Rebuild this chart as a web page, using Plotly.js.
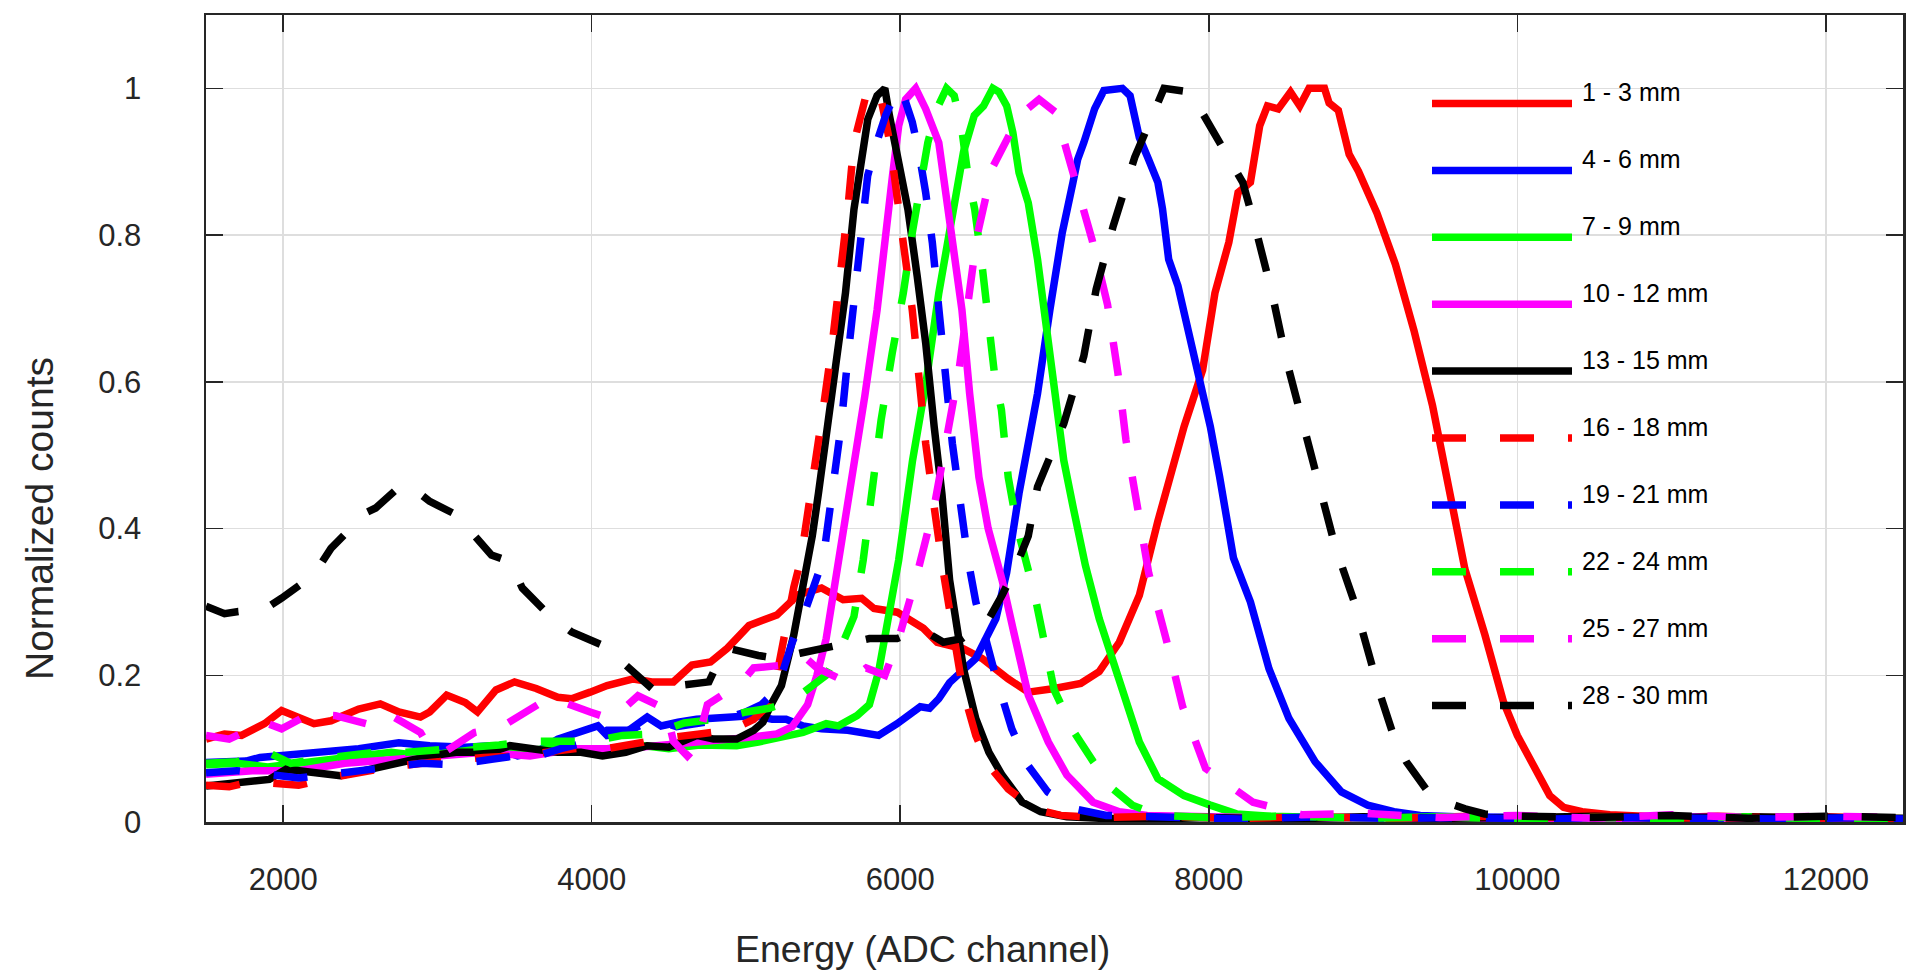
<!DOCTYPE html>
<html>
<head>
<meta charset="utf-8">
<script src="https://cdn.plot.ly/plotly-3.0.1.min.js"></script>
<style>html,body{margin:0;padding:0;background:#fff;}#chart{width:1920px;height:977px;}</style>
</head>
<body>
<div id="chart"></div>
<script>
// ---------- data ----------
const seriesNames = ["1 - 3 mm","4 - 6 mm","7 - 9 mm","10 - 12 mm","13 - 15 mm","16 - 18 mm","19 - 21 mm","22 - 24 mm","25 - 27 mm","28 - 30 mm"];
const seriesColors = ["#ff0000","#0000ff","#00ff00","#ff00ff","#000000","#ff0000","#0000ff","#00ff00","#ff00ff","#000000"];
const seriesDash = ["solid","solid","solid","solid","solid","34px,34px","34px,34px","34px,34px","34px,34px","34px,34px"];

const x01 = [1500,1620,1730,1880,1990,2110,2200,2310,2490,2630,2750,2890,2950,3060,3180,3260,3380,3500,3640,3780,3870,3990,4100,4270,4390,4530,4650,4770,4880,5020,5200,5340,5490,5630,5750,5830,5980,6150,6240,6410,6530,6700,6830,7000,7170,7290,7420,7550,7670,7840,7960,8040,8130,8190,8270,8330,8380,8450,8530,8590,8650,8750,8780,8840,8910,8970,9090,9210,9330,9450,9580,9660,9790,9910,10000,10110,10210,10300,10420,10600,10800,11000,11300,11600,12000,12300,12500];
const y01 = [0.113,0.120,0.118,0.134,0.152,0.143,0.134,0.138,0.154,0.161,0.150,0.143,0.150,0.173,0.163,0.150,0.180,0.191,0.182,0.170,0.168,0.177,0.186,0.195,0.191,0.191,0.214,0.218,0.237,0.268,0.282,0.310,0.319,0.303,0.305,0.291,0.286,0.264,0.245,0.236,0.223,0.195,0.177,0.182,0.189,0.205,0.245,0.309,0.410,0.539,0.616,0.721,0.790,0.858,0.872,0.949,0.976,0.972,0.995,0.976,1.0,1.0,0.98,0.97,0.91,0.887,0.83,0.76,0.67,0.568,0.436,0.345,0.255,0.164,0.118,0.073,0.036,0.020,0.014,0.010,0.009,0.006,0.008,0.006,0.007,0.005,0.004];

const x02 = [1500,1760,1850,2200,2490,2750,2950,3180,3350,3520,3640,3780,3930,4040,4100,4220,4360,4450,4560,4680,4910,5050,5170,5260,5370,5490,5660,5780,5860,5980,6050,6130,6190,6250,6320,6400,6490,6620,6690,6770,6890,6970,7050,7120,7150,7190,7260,7320,7440,7490,7520,7550,7610,7670,7700,7740,7800,7840,7900,7960,8010,8070,8130,8160,8270,8390,8520,8690,8860,9030,9200,9370,9600,10000,10500,11000,11500,12000,12500];
const y02 = [0.081,0.083,0.088,0.095,0.100,0.108,0.104,0.102,0.104,0.090,0.095,0.113,0.122,0.131,0.118,0.122,0.143,0.131,0.136,0.140,0.143,0.145,0.140,0.140,0.131,0.127,0.125,0.122,0.118,0.134,0.145,0.157,0.155,0.168,0.190,0.205,0.223,0.277,0.340,0.448,0.584,0.698,0.803,0.872,0.903,0.926,0.972,0.997,1.0,0.99,0.958,0.933,0.903,0.872,0.836,0.767,0.731,0.694,0.630,0.584,0.539,0.471,0.402,0.36,0.30,0.209,0.141,0.082,0.041,0.023,0.014,0.009,0.007,0.006,0.005,0.007,0.005,0.006,0.004];

const x03 = [1500,1700,1900,2100,2300,2500,2700,2900,3100,3300,3500,3700,3900,4100,4300,4500,4700,4940,5080,5200,5370,5520,5600,5720,5800,5860,5930,5990,6080,6170,6250,6340,6410,6480,6540,6600,6640,6690,6730,6770,6830,6890,6950,7000,7060,7120,7200,7290,7380,7460,7550,7670,7840,8010,8180,8400,8700,9000,9500,10000,10500,11000,11500,12000,12500];
const y03 = [0.078,0.080,0.075,0.080,0.085,0.090,0.095,0.090,0.095,0.100,0.095,0.100,0.100,0.100,0.105,0.100,0.105,0.104,0.109,0.115,0.122,0.134,0.131,0.145,0.160,0.205,0.280,0.357,0.493,0.603,0.721,0.835,0.913,0.963,0.976,1.0,0.995,0.976,0.940,0.885,0.844,0.767,0.676,0.584,0.493,0.430,0.350,0.277,0.218,0.164,0.109,0.059,0.036,0.023,0.011,0.008,0.006,0.005,0.007,0.004,0.006,0.003,0.005,0.004,0.003];

const x04 = [1500,1800,2100,2400,2700,3000,3300,3600,3900,4200,4500,4800,5000,5200,5300,5400,5460,5520,5580,5640,5690,5770,5850,5905,5950,5990,6035,6100,6165,6250,6280,6340,6400,6450,6510,6570,6660,6740,6830,6960,7080,7250,7420,7600,8000,8500,9000,9500,10000,10500,11000,11500,12000,12500];
const y04 = [0.065,0.070,0.070,0.080,0.085,0.090,0.095,0.090,0.100,0.100,0.105,0.110,0.115,0.120,0.130,0.160,0.200,0.250,0.330,0.400,0.470,0.580,0.698,0.812,0.881,0.949,0.985,1.0,0.972,0.926,0.881,0.790,0.698,0.584,0.470,0.400,0.330,0.255,0.173,0.109,0.064,0.027,0.014,0.009,0.007,0.005,0.006,0.004,0.006,0.004,0.006,0.004,0.005,0.004];

const x05 = [1500,1730,1910,2020,2200,2370,2570,2750,2950,3120,3350,3470,3640,3780,3930,4070,4220,4360,4500,4680,4790,4940,5050,5110,5170,5230,5310,5370,5430,5470,5530,5590,5645,5700,5750,5790,5850,5900,5930,5990,6050,6110,6165,6220,6270,6320,6410,6490,6575,6660,6790,6910,7080,7300,7600,8000,8500,9000,9500,10000,10500,11000,11500,12000,12500];
const y05 = [0.049,0.054,0.058,0.072,0.067,0.063,0.072,0.081,0.090,0.095,0.095,0.104,0.100,0.095,0.095,0.090,0.095,0.104,0.102,0.118,0.113,0.113,0.125,0.136,0.163,0.186,0.255,0.319,0.390,0.448,0.539,0.630,0.721,0.835,0.903,0.958,0.990,1.0,0.963,0.903,0.835,0.744,0.653,0.539,0.448,0.330,0.209,0.141,0.095,0.064,0.027,0.014,0.007,0.005,0.004,0.006,0.004,0.007,0.005,0.006,0.008,0.005,0.007,0.006,0.005];

const x06 = [1500,1650,1800,1950,2100,2300,2500,2700,2900,3100,3300,3500,3700,3900,4100,4300,4500,4700,4900,5050,5150,5200,5260,5310,5355,5440,5500,5560,5616,5660,5700,5790,5820,5876,5933,5977,6020,6078,6121,6165,6223,6280,6406,6490,6575,6700,6870,7040,7300,7700,8200,8700,9200,9700,10200,10700,11200,11700,12200,12500];
const y06 = [0.050,0.048,0.055,0.052,0.050,0.060,0.068,0.075,0.080,0.085,0.088,0.090,0.095,0.100,0.100,0.108,0.115,0.120,0.125,0.140,0.160,0.200,0.270,0.320,0.357,0.470,0.562,0.653,0.744,0.835,0.926,1.0,1.0,0.985,0.926,0.858,0.790,0.698,0.607,0.516,0.425,0.340,0.180,0.118,0.077,0.045,0.018,0.009,0.006,0.008,0.005,0.007,0.005,0.008,0.006,0.007,0.005,0.007,0.004,0.005];

const x07 = [1500,1700,1900,2100,2300,2500,2700,2900,3100,3300,3500,3650,3800,4000,4100,4250,4400,4550,4700,4850,5000,5100,5200,5300,5370,5450,5500,5558,5616,5659,5702,5746,5789,5847,5905,5977,6006,6078,6121,6165,6208,6251,6295,6338,6396,6440,6490,6617,6723,6829,6956,7125,7336,7700,8200,8700,9200,9700,10200,10700,11200,11700,12200,12500];
const y07 = [0.067,0.070,0.065,0.060,0.065,0.070,0.075,0.080,0.078,0.085,0.090,0.090,0.100,0.110,0.125,0.125,0.140,0.130,0.135,0.140,0.150,0.160,0.180,0.245,0.280,0.330,0.357,0.448,0.539,0.630,0.721,0.812,0.881,0.926,0.963,0.997,1.0,0.954,0.913,0.858,0.790,0.698,0.607,0.516,0.425,0.357,0.300,0.200,0.127,0.077,0.041,0.018,0.009,0.006,0.004,0.007,0.005,0.006,0.004,0.006,0.005,0.004,0.006,0.004];

const x08 = [1500,1700,1900,2050,2200,2400,2600,2800,3000,3200,3400,3600,3800,4000,4200,4400,4600,4800,5000,5150,5300,5450,5520,5620,5700,5760,5818,5876,5948,6020,6078,6136,6179,6237,6300,6350,6396,6439,6483,6526,6569,6613,6656,6700,6760,6871,6998,7125,7252,7378,7505,7674,8000,8500,9000,9500,10000,10500,11000,11500,12000,12500];
const y08 = [0.080,0.082,0.095,0.080,0.085,0.090,0.095,0.095,0.098,0.100,0.105,0.110,0.110,0.110,0.118,0.120,0.135,0.140,0.150,0.155,0.165,0.190,0.200,0.240,0.280,0.357,0.457,0.548,0.639,0.721,0.803,0.881,0.926,0.972,1.0,0.990,0.949,0.881,0.835,0.767,0.676,0.607,0.562,0.470,0.400,0.310,0.180,0.123,0.082,0.045,0.023,0.009,0.006,0.008,0.005,0.007,0.004,0.006,0.005,0.007,0.004,0.005];

const x09 = [1500,1650,1880,1990,2170,2340,2540,2660,2890,2950,3030,3240,3410,3610,3730,3990,4130,4300,4390,4480,4530,4620,4680,4750,4970,5050,5250,5370,5460,5660,5780,5900,5990,6100,6223,6381,6497,6598,6772,6900,7009,7127,7243,7344,7411,7463,7541,7611,7725,7831,7979,8287,8600,9000,9500,10000,10500,11000,11500,12000,12500];
const y09 = [0.118,0.113,0.136,0.127,0.147,0.145,0.134,0.150,0.122,0.100,0.093,0.122,0.129,0.154,0.170,0.150,0.140,0.172,0.163,0.154,0.110,0.090,0.104,0.160,0.190,0.210,0.214,0.227,0.210,0.190,0.210,0.200,0.250,0.330,0.433,0.616,0.798,0.892,0.963,0.985,0.967,0.877,0.794,0.705,0.612,0.521,0.430,0.339,0.248,0.157,0.073,0.027,0.010,0.012,0.006,0.009,0.005,0.010,0.006,0.008,0.006];

const x10 = [1500,1620,1710,1850,1910,1990,2200,2310,2460,2510,2600,2770,2890,2950,3120,3240,3350,3470,3550,3700,3780,3870,4070,4160,4220,4390,4500,4560,4760,4820,4880,5080,5200,5350,5490,5660,5800,5980,6100,6200,6280,6400,6500,6575,6660,6744,6830,6890,7060,7190,7270,7380,7520,7670,7710,7880,7940,8010,8100,8150,8220,8300,8410,8500,8610,8730,8820,8943,9027,9112,9197,9281,9408,9535,9662,9788,10000,10500,11000,11500,12000,12500];
const y10 = [0.294,0.284,0.287,0.289,0.294,0.305,0.337,0.373,0.405,0.419,0.428,0.460,0.447,0.437,0.419,0.392,0.364,0.355,0.319,0.287,0.273,0.259,0.241,0.223,0.214,0.182,0.182,0.186,0.191,0.218,0.237,0.227,0.223,0.230,0.236,0.245,0.250,0.250,0.260,0.255,0.245,0.250,0.265,0.277,0.309,0.345,0.390,0.457,0.543,0.635,0.726,0.812,0.906,0.985,1.0,0.995,0.974,0.949,0.917,0.897,0.872,0.812,0.721,0.632,0.543,0.452,0.375,0.300,0.232,0.173,0.118,0.082,0.045,0.027,0.018,0.011,0.008,0.006,0.009,0.005,0.008,0.006];

const xTicks = [2000,4000,6000,8000,10000,12000];
const xTickText = ["2000","4000","6000","8000","10000","12000"];
const yTicks = [0,0.2,0.4,0.6,0.8,1];
const yTickText = ["0","0.2","0.4","0.6","0.8","1"];
const xTitle = "Energy (ADC channel)";
const yTitle = "Normalized counts";

// ---------- build ----------
const xs = [x01,x02,x03,x04,x05,x06,x07,x08,x09,x10];
const ys = [y01,y02,y03,y04,y05,y06,y07,y08,y09,y10];
const LW = 7.5;
const FONT = "Liberation Sans, Arial, Helvetica, sans-serif";

const traces = xs.map((x, i) => ({
  type: "scatter", mode: "lines", x: x, y: ys[i], name: seriesNames[i],
  line: {color: seriesColors[i], width: LW, dash: seriesDash[i]},
  showlegend: false, hoverinfo: "skip"
}));

// plot-area geometry (pixels)
const W = 1920, H = 977, L = 206, R = 1903, T = 15, B = 822;
const px2x = p => (p - L) / (R - L);
const py2y = p => (B - p) / (B - T);

// custom MATLAB-style legend (long line samples, no box)
const shapes = [], annotations = [];
seriesNames.forEach((name, i) => {
  const ly = 103.5 + 66.9 * i;
  shapes.push({type: "line", xref: "paper", yref: "paper",
    x0: px2x(1432), x1: px2x(1572), y0: py2y(ly), y1: py2y(ly),
    line: {color: seriesColors[i], width: LW, dash: seriesDash[i]}});
  annotations.push({xref: "paper", yref: "paper", x: px2x(1580), y: py2y(ly - 11),
    xanchor: "left", yanchor: "middle", showarrow: false, text: name,
    font: {family: FONT, size: 25, color: "#000000"}});
});
annotations.push({xref: "paper", yref: "paper", x: px2x(922), y: py2y(949),
  xanchor: "center", yanchor: "middle", showarrow: false, text: xTitle,
  font: {family: FONT, size: 37.5, color: "#262626"}});
annotations.push({xref: "paper", yref: "paper", x: px2x(39), y: py2y(519),
  xanchor: "center", yanchor: "middle", showarrow: false, text: yTitle, textangle: -90,
  font: {family: FONT, size: 39, color: "#262626"}});

const axisCommon = {
  showline: true, linecolor: "#262626", linewidth: 2.5, mirror: "ticks",
  ticks: "inside", ticklen: 17, tickwidth: 1.5, tickcolor: "#262626",
  showgrid: true, gridcolor: "#dedede", gridwidth: 1.5, zeroline: false,
  tickfont: {family: FONT, size: 31, color: "#262626"}
};

const layout = {
  width: W, height: H,
  margin: {l: L, r: W - R, t: T, b: H - B, pad: 0},
  paper_bgcolor: "#ffffff", plot_bgcolor: "#ffffff",
  showlegend: false,
  xaxis: Object.assign({}, axisCommon, {range: [1500, 12500], tickmode: "array", tickvals: xTicks, ticktext: xTickText, ticklabelstandoff: 28}),
  yaxis: Object.assign({}, axisCommon, {range: [0, 1.1], tickmode: "array", tickvals: yTicks, ticktext: yTickText, ticklabelstandoff: 56}),
  shapes: shapes, annotations: annotations
};

Plotly.newPlot("chart", traces, layout, {staticPlot: true, displayModeBar: false});
</script>
</body>
</html>
